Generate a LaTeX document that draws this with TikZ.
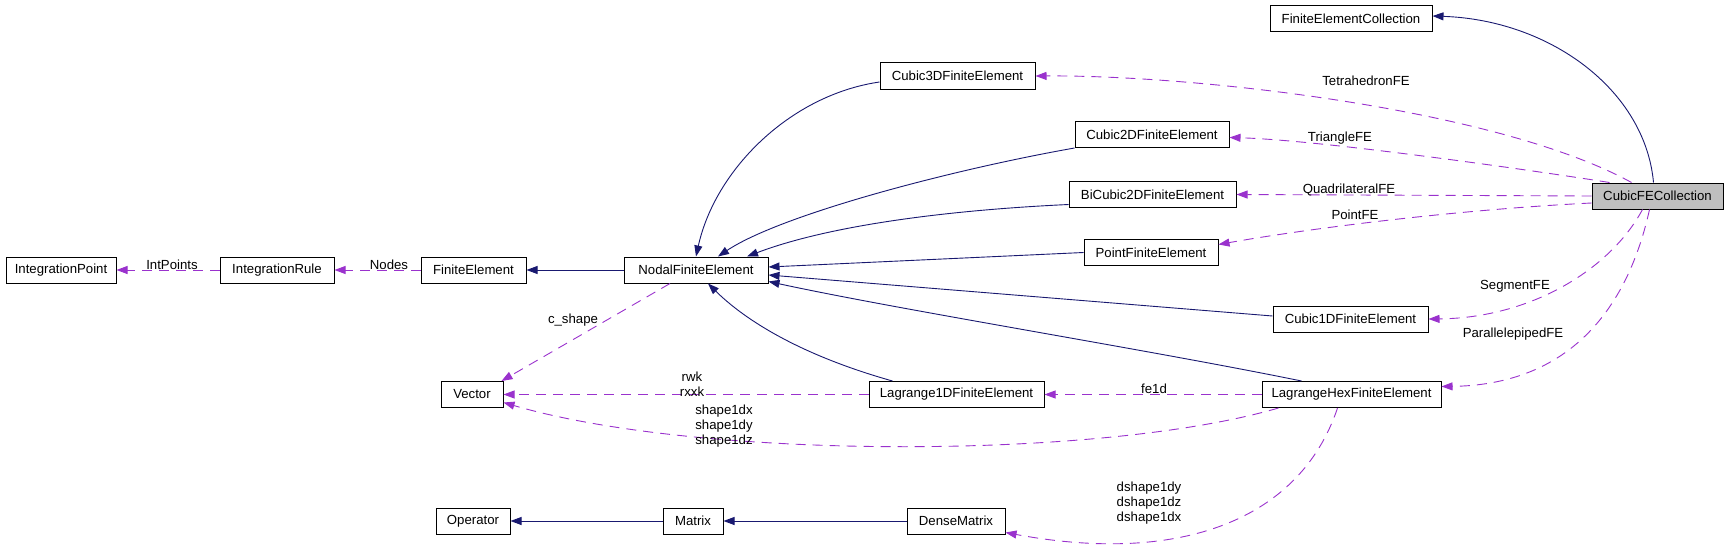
\documentclass[tikz,border=0pt]{standalone}
\usepackage{fontspec}
\setmainfont{Liberation Sans}
\usetikzlibrary{arrows.meta}
\definecolor{inherit}{HTML}{191970}
\definecolor{usage}  {HTML}{9A32CD}
\definecolor{focus}  {HTML}{BFBFBF}
\tikzset{
  every node/.style={font=\fontsize{13.2}{15}\selectfont},
  % --- nodes
  cls/.style = {draw=black, fill=white, line width=1pt, inner sep=0pt, minimum height=26pt},
  cur/.style = {cls, fill=focus},
  lbl/.style = {inner sep=0pt, align=center},
  % --- edges
  inh/.style = {-{Triangle[length=11pt,width=8pt]}, draw=inherit, line width=0.9pt},
  use/.style = {-{Triangle[length=11pt,width=8pt]}, draw=usage, line width=0.9pt,
                dash pattern=on 10pt off 7pt},
}
\begin{document}
\begin{tikzpicture}[x=1pt,y=-1pt]
  \useasboundingbox (0,0) rectangle (1728,551);
  \node[cls, minimum width=110] (ip)   at (61,270)     {IntegrationPoint};
  \node[cls, minimum width=114] (ir)   at (277,270)    {IntegrationRule};
  \node[cls, minimum width=105] (fe)   at (473.5,270)  {FiniteElement};
  \node[cls, minimum width=144] (nfe)  at (696,270)    {NodalFiniteElement};
  \node[cls, minimum width=62]  (vec)  at (472,394.5)  {Vector};
  \node[cls, minimum width=74]  (op)   at (473,521)    {Operator};
  \node[cls, minimum width=60]  (mat)  at (693,521)    {Matrix};
  \node[cls, minimum width=98]  (dm)   at (956,521)    {DenseMatrix};
  \node[cls, minimum width=175] (l1d)  at (956.5,394.5) {Lagrange1DFiniteElement};
  \node[cls, minimum width=179] (lhex) at (1351.5,394.5) {LagrangeHexFiniteElement};
  \node[cls, minimum width=155] (c1d)  at (1350.5,319) {Cubic1DFiniteElement};
  \node[cls, minimum width=134] (pfe)  at (1151,252.5) {PointFiniteElement};
  \node[cls, minimum width=167] (bc2d) at (1152.5,194.5) {BiCubic2DFiniteElement};
  \node[cls, minimum width=154] (c2d)  at (1152,134.5) {Cubic2DFiniteElement};
  \node[cls, minimum width=155] (c3d)  at (957.5,76)   {Cubic3DFiniteElement};
  \node[cls, minimum width=162] (fec)  at (1351,19)    {FiniteElementCollection};
  \node[cur, minimum width=131] (cfe)  at (1657.5,196) {CubicFECollection};
  % inheritance
  \draw[inh] (nfe.west) -- (fe.east);
  \draw[inh] ([yshift=-6]c3d.west) .. controls (790,95) and (715,170) .. (nfe.north);
  \draw[inh] (c2d.south west) .. controls (950,170) and (780,215) .. ([xshift=22]nfe.north);
  \draw[inh] ([yshift=-10]bc2d.west) .. controls (950,210) and (830,225) .. ([xshift=51]nfe.north);
  \draw[inh] (pfe.west) -- ([yshift=3]nfe.east);
  \draw[inh] ([yshift=3]c1d.west) -- ([yshift=-5]nfe.east);
  \draw[inh] ([xshift=-50]lhex.north) .. controls (1150,350) and (900,310) .. ([yshift=2]nfe.south east);
  \draw[inh] ([xshift=-64]l1d.north) .. controls (800,355) and (745,320) .. ([xshift=12]nfe.south);
  \draw[inh] ([xshift=-4]cfe.north) .. controls (1645,90) and (1550,20) .. ([yshift=3]fec.east);
  \draw[inh] (mat.west) -- (op.east);
  \draw[inh] (dm.west) -- (mat.east);
  % usage
  \draw[use] (ir.west) -- (ip.east);
  \node[lbl] (lip) at (172,265) {IntPoints};
  \draw[use] (fe.west) -- (ir.east);
  \node[lbl] (lnd) at (389,265) {Nodes};
  \draw[use] ([xshift=-26]nfe.south) -- ([xshift=-2]vec.north east);
  \node[lbl] (lcs) at (573,320) {c\_shape};
  \draw[use] (l1d.west) -- (vec.east);
  \node[lbl] (lrw) at (692,384) {rwk\\rxxk};
  \draw[use] ([xshift=-73]lhex.south) .. controls (1100,460) and (700,460) .. ([yshift=-8]vec.east);
  \node[lbl] (lsh) at (724,426) {shape1dx\\shape1dy\\shape1dz};
  \draw[use] (lhex.west) -- (l1d.east);
  \node[lbl] (lfe) at (1154,389) {fe1d};
  \draw[use] ([xshift=-14]lhex.south) .. controls (1300,520) and (1180,565) .. ([yshift=2]dm.south east);
  \node[lbl] (lds) at (1149,503) {dshape1dy\\dshape1dz\\dshape1dx};
  \draw[use] ([xshift=-26]cfe.north) .. controls (1500,110) and (1200,75) .. (c3d.east);
  \node[lbl] (ltet) at (1366,81) {TetrahedronFE};
  \draw[use] ([xshift=-48]cfe.north) .. controls (1530,170) and (1320,140) .. ([yshift=-3]c2d.east);
  \node[lbl] (ltri) at (1340,138) {TriangleFE};
  \draw[use] (cfe.west) -- (bc2d.east);
  \node[lbl] (lqd) at (1349,190) {QuadrilateralFE};
  \draw[use] ([yshift=-7]cfe.west) .. controls (1450,210) and (1300,230) .. ([yshift=8]pfe.east);
  \node[lbl] (lpt) at (1355,215) {PointFE};
  \draw[use] ([xshift=-15]cfe.south) .. controls (1610,270) and (1530,318) .. (c1d.east);
  \node[lbl] (lseg) at (1515,286) {SegmentFE};
  \draw[use] ([xshift=-8]cfe.south) .. controls (1625,320) and (1560,385) .. ([yshift=8]lhex.east);
  \node[lbl] (lpar) at (1513,334) {ParallelepipedFE};
\end{tikzpicture}
\end{document}
